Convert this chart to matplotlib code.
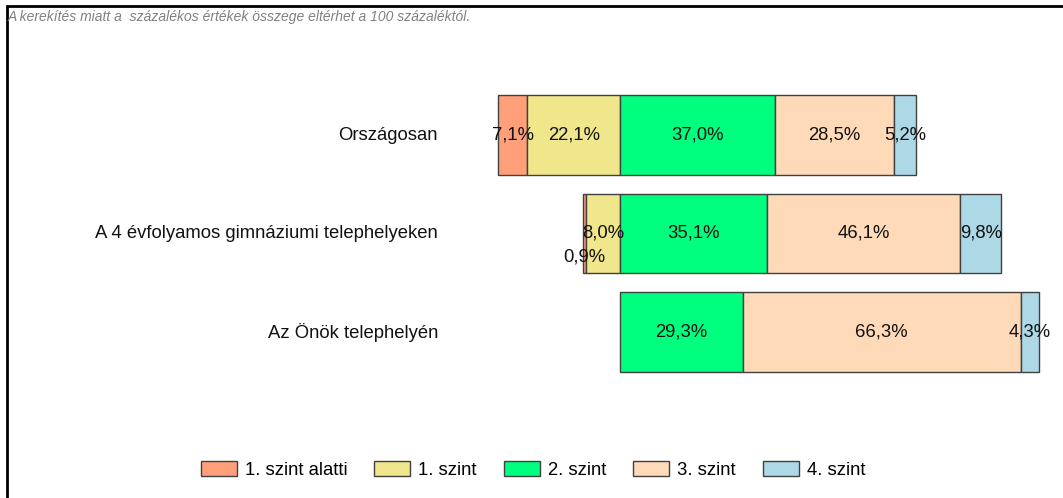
import matplotlib
matplotlib.use("Agg")
import matplotlib.pyplot as plt
from matplotlib.patches import Rectangle, Patch
import numpy as np

plt.rcParams['font.family'] = ['Liberation Sans', 'DejaVu Sans']

categories = ["Országosan", "A 4 évfolyamos gimnáziumi telephelyeken", "Az Önök telephelyén"]
levels = ["1. szint alatti", "1. szint", "2. szint", "3. szint", "4. szint"]
below1 = [7.1, 0.9, 0.0]
lvl1 = [22.1, 8.0, 0.0]
lvl2 = [37.0, 35.1, 29.3]
lvl3 = [28.5, 46.1, 66.3]
lvl4 = [5.2, 9.8, 4.3]
colors = ["#FFA07A", "#F0E68C", "#00FF7F", "#FFDAB9", "#ADD8E6"]
note = "A kerekítés miatt a  százalékos értékek összege eltérhet a 100 százaléktól."

W, H = 1063, 498
fig = plt.figure(figsize=(W / 100, H / 100), dpi=100)
ax = fig.add_axes([0, 0, 1, 1])
ax.set_axis_off()

px_per = 4.19
x0 = 620
ax.set_xlim(-x0 / px_per, (W - x0) / px_per)
sp = 98.5
y_first = 135
ax.set_ylim((H - y_first) / sp, -y_first / sp)

y = np.arange(len(categories))
bh = 0.81
edge = "#404040"
FS = 13.3

b1 = np.array(below1); l1 = np.array(lvl1)
l2 = np.array(lvl2); l3 = np.array(lvl3); l4 = np.array(lvl4)

segs = [
    (-(b1 + l1), b1),
    (-l1, l1),
    (np.zeros_like(l2), l2),
    (l2, l3),
    (l2 + l3, l4),
]

def fmt(v):
    return f"{v:.1f}%".replace(".", ",")

for i, (left, width) in enumerate(segs):
    for j in range(len(categories)):
        if width[j] <= 0:
            continue
        ax.barh(y[j], width[j], left=left[j], height=bh, color=colors[i],
                edgecolor=edge, linewidth=1.0)
        cx = left[j] + width[j] / 2
        cy = y[j]
        if width[j] < 2:
            cy = y[j] + 0.24
        ax.text(cx, cy, fmt(width[j]), ha="center", va="center", fontsize=FS,
                color="#111111")

for j, c in enumerate(categories):
    ax.text(438 / W, y[j], c, ha="right", va="center", fontsize=FS,
            transform=ax.get_yaxis_transform(), color="#111111")

handles = [Patch(facecolor=colors[i], edgecolor=edge, linewidth=1.0, label=levels[i])
           for i in range(len(levels))]
leg = fig.legend(handles=handles, loc="center", bbox_to_anchor=(533 / W, 1 - 470 / H),
                 ncol=5, frameon=False, fontsize=FS, handlelength=1.95,
                 handleheight=0.87, columnspacing=1.46, handletextpad=0.43)

fig.text(8 / W, 1 - 17 / H, note, fontsize=10, style="italic", color="#808080",
         ha="left", va="center")

fig.add_artist(Rectangle((7 / W, -0.1), 1.2, 1 - 6 / H + 0.1, transform=fig.transFigure,
                         fill=False, edgecolor="black", linewidth=2.0, clip_on=False))

fig.savefig("out.png", dpi=100)
